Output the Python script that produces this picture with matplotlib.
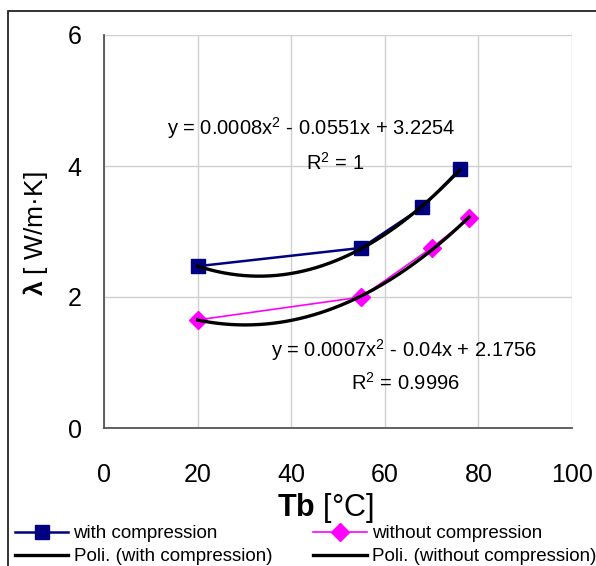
import matplotlib
matplotlib.use("Agg")
import matplotlib.pyplot as plt
import numpy as np
from matplotlib.patches import Rectangle

plt.rcParams["font.family"] = ["Liberation Sans", "DejaVu Sans"]
plt.rcParams["mathtext.fontset"] = "custom"
plt.rcParams["mathtext.rm"] = "Liberation Sans"
plt.rcParams["mathtext.it"] = "Liberation Sans"
plt.rcParams["mathtext.bf"] = "Liberation Sans:bold"

# data
tb_with = [20, 55, 68, 76]
lam_with = [2.47, 2.75, 3.37, 3.95]
tb_without = [20, 55, 70, 78]
lam_without = [1.65, 2.0, 2.75, 3.2]

eq_with = "y = 0.0008x$^2$ - 0.0551x + 3.2254"
r2_with = "R$^2$ = 1"
eq_without = "y = 0.0007x$^2$ - 0.04x + 2.1756"
r2_without = "R$^2$ = 0.9996"

W, H = 596, 566
fig = plt.figure(figsize=(W / 100, H / 100), dpi=100)
ax = fig.add_axes([104 / W, 1 - 428 / H, (572 - 104) / W, (428 - 35) / H])

# outer chart border (left and top visible)
fig.patches.append(Rectangle((8 / W, -0.2), 1.2, 1 - 11 / H + 0.2,
                             transform=fig.transFigure, fill=False,
                             edgecolor="#222222", lw=1.3))

ax.plot(tb_with, lam_with, "-s", color="#000080", lw=1.8, ms=10,
        label="with compression", zorder=3)
ax.plot(tb_without, lam_without, "-D", color="#ff00ff", lw=1.2, ms=9,
        label="without compression", zorder=3)

for xs, ys, lab in [(tb_with, lam_with, "Poli. (with compression)"),
                    (tb_without, lam_without, "Poli. (without compression)")]:
    c = np.polyfit(xs, ys, 2)
    xx = np.linspace(min(xs), max(xs), 200)
    ax.plot(xx, np.polyval(c, xx), color="black", lw=2.4, label=lab, zorder=4)

ax.set_xlim(0, 100)
ax.set_ylim(0, 6)
ax.set_xticks([0, 20, 40, 60, 80, 100])
ax.set_yticks([0, 2, 4, 6])
ax.tick_params(length=0, labelsize=18)
ax.tick_params(axis="x", pad=25)
ax.tick_params(axis="y", pad=16)
ax.grid(True, color="#d0d0d0", lw=1)
for s in ["top", "right"]:
    ax.spines[s].set_visible(False)
for s in ["left", "bottom"]:
    ax.spines[s].set_color("#555555")
    ax.spines[s].set_linewidth(1.3)

ax.text(44.3, 4.58, eq_with, fontsize=14.5, ha="center", va="center")
ax.text(49.4, 4.05, r2_with, fontsize=14.5, ha="center", va="center")
ax.text(64, 1.19, eq_without, fontsize=14.5, ha="center", va="center")
ax.text(64.3, 0.69, r2_without, fontsize=14.5, ha="center", va="center")

fig.text(325 / W, 1 - 508 / H, r"$\mathbf{Tb}$ [°C]", fontsize=22,
         ha="center", va="center")
fig.text(35 / W, 1 - 234 / H, r"$\mathbf{λ}$ [ W/m·K]", fontsize=19,
         ha="center", va="center", rotation=90)

h, l = ax.get_legend_handles_labels()
order = [0, 2, 1, 3]
fig.legend([h[i] for i in order], [l[i] for i in order], ncol=2,
           loc="upper left", bbox_to_anchor=(15 / W, 1 - 525 / H),
           frameon=False, fontsize=13.5, handlelength=2.85, handletextpad=0.27,
           columnspacing=2.2, borderpad=0, borderaxespad=0, labelspacing=0.32)

fig.savefig("out.png", dpi=100)
